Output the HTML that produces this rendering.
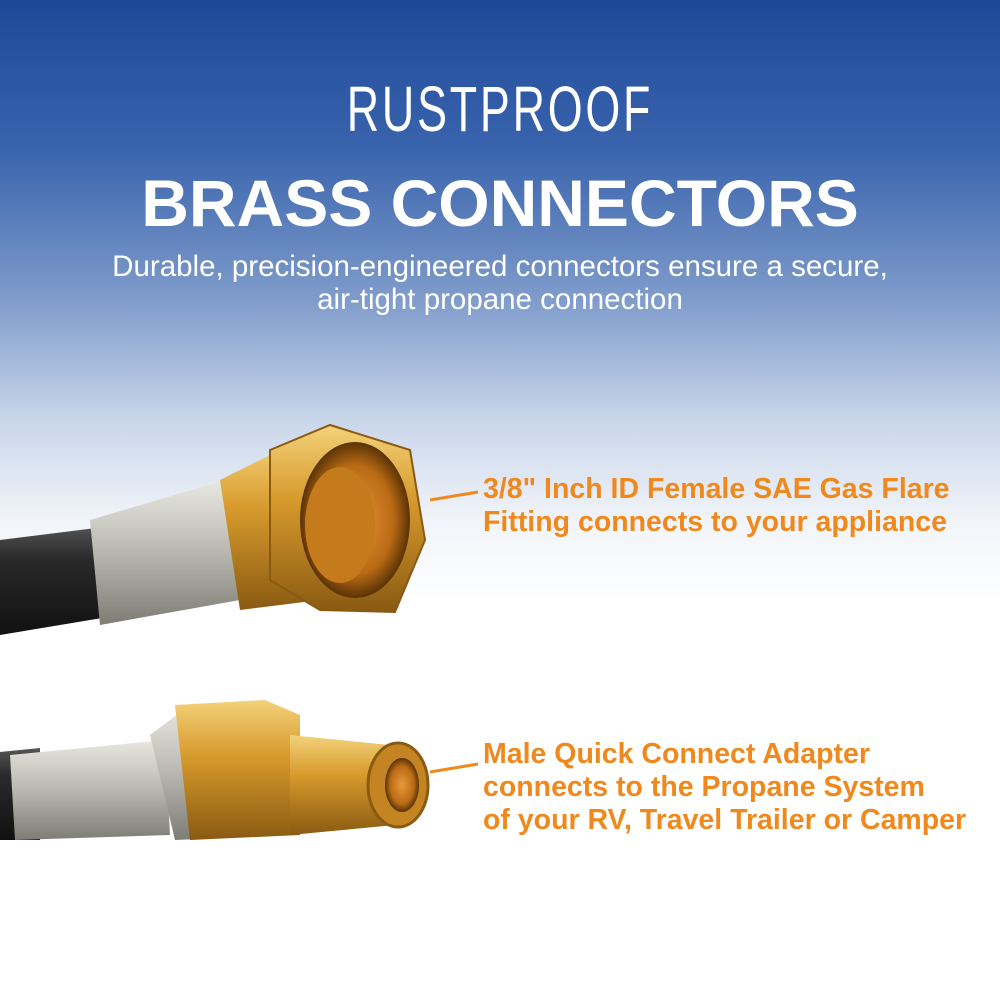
<!DOCTYPE html>
<html><head><meta charset="utf-8">
<style>
html,body{margin:0;padding:0}
body{width:1000px;height:1000px;position:relative;overflow:hidden;
background:linear-gradient(180deg,#1d4898 0%,#3a64ad 15%,#7f9ccb 30%,#c9d6ea 42%,#f1f4f9 52%,#ffffff 60%,#ffffff 100%);
font-family:"Liberation Sans",sans-serif}
.t1{position:absolute;top:72px;left:0;width:1000px;text-align:center;color:#fff;font-size:64px;letter-spacing:4px;font-weight:normal;transform:scaleX(0.7);}
.t2{position:absolute;top:165px;left:0;width:1000px;text-align:center;color:#fff;font-size:66px;font-weight:bold;letter-spacing:0px}
.sub{position:absolute;top:250px;left:0;width:1000px;text-align:center;color:#fff;font-size:29.5px;line-height:33px}
.lab{position:absolute;left:483px;color:#f0891d;font-weight:bold;font-size:28.5px;line-height:33px;white-space:nowrap}
svg{position:absolute;left:0;top:0}
</style></head><body>
<div class="t1">RUSTPROOF</div>
<div class="t2">BRASS CONNECTORS</div>
<div class="sub">Durable, precision-engineered connectors ensure a secure,<br>air-tight propane connection</div>
<svg width="1000" height="1000" viewBox="0 0 1000 1000">
<defs>
<linearGradient id="hose" x1="0" y1="0" x2="0" y2="1"><stop offset="0" stop-color="#555"/><stop offset="0.3" stop-color="#2a2a2a"/><stop offset="1" stop-color="#111"/></linearGradient>
<linearGradient id="silver" x1="0" y1="0" x2="0" y2="1"><stop offset="0" stop-color="#e8e8e2"/><stop offset="0.5" stop-color="#b9b8b0"/><stop offset="1" stop-color="#7d7c75"/></linearGradient>
<linearGradient id="brass" x1="0" y1="0" x2="0" y2="1"><stop offset="0" stop-color="#f4d27a"/><stop offset="0.4" stop-color="#d79a2c"/><stop offset="1" stop-color="#8a5a12"/></linearGradient>
<radialGradient id="hole"><stop offset="0" stop-color="#e89a3a"/><stop offset="0.7" stop-color="#b96a14"/><stop offset="1" stop-color="#5a3306"/></radialGradient>
</defs>
<path d="M0 540 L120 525 L120 615 L0 635 Z" fill="url(#hose)"/>
<path d="M90 520 L225 480 L240 600 L100 625 Z" fill="url(#silver)"/>
<path d="M220 480 L300 440 L320 600 L240 610 Z" fill="url(#brass)"/>
<polygon points="270,450 330,425 410,450 425,540 395,612 320,610 270,580" fill="url(#brass)" stroke="#8a5a12" stroke-width="2"/>
<ellipse cx="355" cy="520" rx="55" ry="78" fill="url(#hole)"/>
<ellipse cx="340" cy="525" rx="35" ry="58" fill="#c57a1c"/>
<path d="M0 752 L40 748 L40 840 L0 840 Z" fill="url(#hose)"/>
<path d="M10 755 L165 740 L170 835 L15 840 Z" fill="url(#silver)"/>
<path d="M150 735 L190 705 L270 705 L290 835 L175 840 Z" fill="url(#silver)"/>
<path d="M175 705 L265 700 L300 715 L300 835 L190 840 Z" fill="url(#brass)"/>
<path d="M290 735 L390 745 L395 825 L290 835 Z" fill="url(#brass)"/>
<ellipse cx="398" cy="785" rx="30" ry="42" fill="#c58422" stroke="#8a5a12" stroke-width="3"/>
<ellipse cx="402" cy="785" rx="17" ry="27" fill="url(#hole)"/>
<line x1="430" y1="500" x2="478" y2="492" stroke="#f0891d" stroke-width="3"/>
<line x1="430" y1="772" x2="478" y2="764" stroke="#f0891d" stroke-width="3"/>
</svg>
<div class="lab" style="top:473px">3/8" Inch ID Female SAE Gas Flare<br>Fitting connects to your appliance</div>
<div class="lab" style="top:738px">Male Quick Connect Adapter<br>connects to the Propane System<br>of your RV, Travel Trailer or Camper</div>
</body></html>
